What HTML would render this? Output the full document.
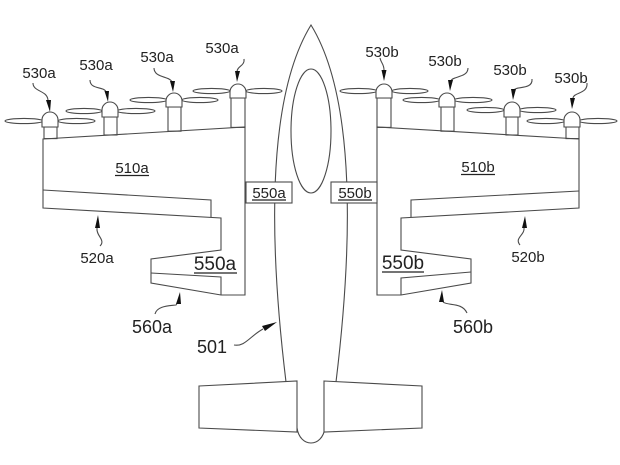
<!DOCTYPE html>
<html>
<head>
<meta charset="utf-8">
<style>
  html,body{margin:0;padding:0;background:#fff;}
  svg{display:block;}
  text{font-family:"Liberation Sans",sans-serif;fill:#222;}
</style>
</head>
<body>
<svg width="620" height="465" viewBox="0 0 620 465" xmlns="http://www.w3.org/2000/svg">
  <g fill="none" stroke="#4a4a4a" stroke-width="1.1" stroke-linejoin="miter">
    <!-- fuselage -->
    <path d="M 286 382 C 270 250, 265 100, 311 25 C 357 100, 352 250, 336 382"/>
    <ellipse cx="311" cy="131" rx="20" ry="62"/>
    <path d="M 297 428 C 300 448, 322 448, 325 428"/>
    <!-- tail -->
    <path d="M 199 386 L 297 381 L 297 432 L 199 428 Z" fill="#fff"/>
    <path d="M 324 381 L 422 386 L 422 428 L 324 432 Z" fill="#fff"/>

    <!-- left wing -->
    <path d="M 43 139 L 245 127 L 245 295 L 221 295 L 151 283 L 151 259 L 221 250 L 221 218 L 43 208 Z" fill="#fff"/>
    <path d="M 43 190 L 211 200 L 211 217.4"/>
    <path d="M 151 273 L 221 277 L 221 295"/>
    <!-- right wing -->
    <path d="M 579 139 L 377 127 L 377 295 L 401 295 L 471 283 L 471 259 L 401 250 L 401 218 L 579 208 Z" fill="#fff"/>
    <path d="M 579 191 L 411 200 L 411 217.4"/>
    <path d="M 471 272 L 401 278 L 401 295"/>

    <!-- boxes 550 -->
    <rect x="246" y="182" width="46" height="21" fill="#fff"/>
    <rect x="331" y="182" width="46" height="21" fill="#fff"/>

    <!-- rotors left -->
    <!-- R1 -->
    <ellipse cx="24" cy="121" rx="19" ry="2.6"/>
    <ellipse cx="76.5" cy="121" rx="18.5" ry="2.6"/>
    <rect x="44" y="127" width="13" height="11.6"/>
    <path d="M 42 127 L 42 120 A 8 8 0 0 1 58 120 L 58 127 Z" fill="#fff"/>
    <!-- R2 -->
    <ellipse cx="84" cy="111" rx="18" ry="2.6"/>
    <ellipse cx="136" cy="111" rx="19" ry="2.6"/>
    <rect x="104" y="117" width="13" height="18"/>
    <path d="M 102 117 L 102 110 A 8 8 0 0 1 118 110 L 118 117 Z" fill="#fff"/>
    <!-- R3 -->
    <ellipse cx="148.5" cy="100" rx="18.5" ry="2.6"/>
    <ellipse cx="200" cy="100" rx="18" ry="2.6"/>
    <rect x="168" y="107" width="13" height="24.2"/>
    <path d="M 166 107 L 166 101 A 8 8 0 0 1 182 101 L 182 107 Z" fill="#fff"/>
    <!-- R4 -->
    <ellipse cx="211.5" cy="91" rx="18.5" ry="2.6"/>
    <ellipse cx="264" cy="91" rx="18" ry="2.6"/>
    <rect x="231" y="98" width="14" height="29.4"/>
    <path d="M 230 98 L 230 92 A 8 8 0 0 1 246 92 L 246 98 Z" fill="#fff"/>

    <!-- rotors right -->
    <!-- R1b -->
    <ellipse cx="358.5" cy="91" rx="18.5" ry="2.6"/>
    <ellipse cx="410" cy="91" rx="18" ry="2.6"/>
    <rect x="377" y="98" width="14" height="29.4"/>
    <path d="M 376 98 L 376 92 A 8 8 0 0 1 392 92 L 392 98 Z" fill="#fff"/>
    <!-- R2b -->
    <ellipse cx="421.5" cy="100" rx="18.5" ry="2.6"/>
    <ellipse cx="473" cy="100" rx="19" ry="2.6"/>
    <rect x="441" y="107" width="13" height="24.2"/>
    <path d="M 439 107 L 439 101 A 8 8 0 0 1 455 101 L 455 107 Z" fill="#fff"/>
    <!-- R3b -->
    <ellipse cx="485.5" cy="110" rx="18.5" ry="2.6"/>
    <ellipse cx="537.5" cy="110" rx="18.5" ry="2.6"/>
    <rect x="506" y="117" width="12" height="18"/>
    <path d="M 504 117 L 504 110 A 8 8 0 0 1 520 110 L 520 117 Z" fill="#fff"/>
    <!-- R4b -->
    <ellipse cx="546" cy="121" rx="19" ry="2.6"/>
    <ellipse cx="598" cy="121" rx="19" ry="2.6"/>
    <rect x="566" y="127" width="13" height="11.6"/>
    <path d="M 564 127 L 564 120 A 8 8 0 0 1 580 120 L 580 127 Z" fill="#fff"/>

    <!-- leaders -->
    <path d="M 33 83 C 33 92, 47 90, 48 100"/>
    <path d="M 90 80 C 90 90, 104 86, 106 92"/>
    <path d="M 154 68 C 154 78, 170 76, 172 82"/>
    <path d="M 244 59 C 245 66, 237 66, 237 72"/>
    <path d="M 380 58 C 381 63, 384 64, 384 70"/>
    <path d="M 468 68 C 468 78, 452 76, 451 81"/>
    <path d="M 532 79 C 533 90, 516 86, 514 90"/>
    <path d="M 587 83 C 588 94, 574 92, 573 98"/>
    <path d="M 100 246 C 106 240, 96 236, 97 228"/>
    <path d="M 520 245 C 514 238, 525 235, 524 228"/>
    <path d="M 155 314 C 157 306, 168 306, 176 305 L 178 302"/>
    <path d="M 467 313 C 462 302, 448 306, 443 302"/>
    <path d="M 234 345 C 245 347, 250 336, 263 329"/>
  </g>

  <!-- arrowheads -->
  <g fill="#111" stroke="none">
    <polygon points="50,112 46,100 51,100"/>
    <polygon points="108,102 104.5,91 109,91"/>
    <polygon points="173,92 170,81 175,81"/>
    <polygon points="237,82 235,71 240,71"/>
    <polygon points="384,81 381.5,70 386.5,70"/>
    <polygon points="450,91 448,80 453,80"/>
    <polygon points="513,100 511,89 516,89"/>
    <polygon points="572,109 570,98 575,98"/>
    <polygon points="98,215 95,228 100,228"/>
    <polygon points="525,216 522,228 527,228"/>
    <polygon points="180,292 176,304 181,304"/>
    <polygon points="442,290 439,302 444,302"/>
    <polygon points="277,322 262,326 265,331"/>
  </g>

  <!-- labels -->
  <g font-size="15" text-anchor="middle">
    <text x="39" y="78">530a</text>
    <text x="96" y="70">530a</text>
    <text x="157" y="62">530a</text>
    <text x="222" y="53">530a</text>
    <text x="382" y="57">530b</text>
    <text x="445" y="66">530b</text>
    <text x="510" y="75">530b</text>
    <text x="571" y="83">530b</text>
    <text x="132" y="173">510a</text>
    <text x="478" y="172">510b</text>
    <text x="269" y="198">550a</text>
    <text x="355" y="198">550b</text>
    <text x="97" y="263">520a</text>
    <text x="528" y="262">520b</text>
  </g>
  <g font-size="19" text-anchor="middle">
    <text x="215" y="270">550a</text>
    <text x="403" y="269">550b</text>
  </g>
  <g font-size="18" text-anchor="middle">
    <text x="152" y="333">560a</text>
    <text x="473" y="333">560b</text>
    <text x="212" y="353">501</text>
  </g>
  <!-- underlines -->
  <g stroke="#222" stroke-width="1.2">
    <line x1="115" y1="175.5" x2="149" y2="175.5"/>
    <line x1="461" y1="174.5" x2="495" y2="174.5"/>
    <line x1="252" y1="200" x2="286" y2="200"/>
    <line x1="338" y1="200" x2="372" y2="200"/>
    <line x1="194" y1="273" x2="237" y2="273"/>
    <line x1="382" y1="272" x2="424" y2="272"/>
  </g>
</svg>
</body>
</html>
